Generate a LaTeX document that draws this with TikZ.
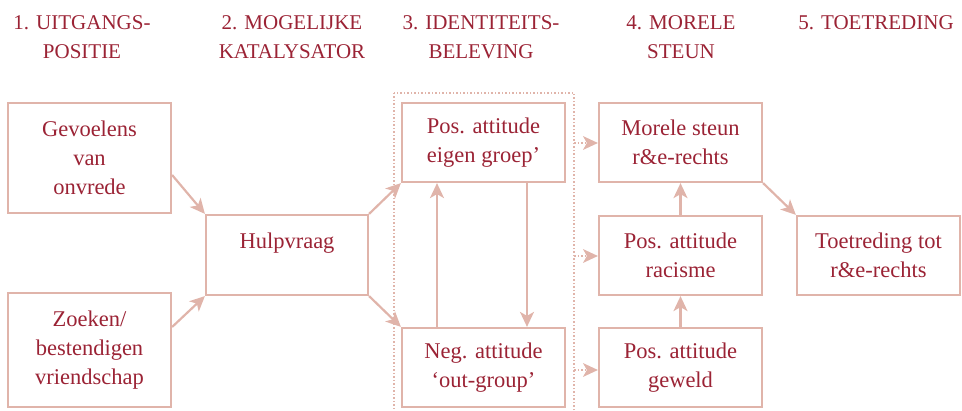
\documentclass[tikz,border=0pt]{standalone}
\usepackage{fontspec}
\setmainfont{Liberation Serif}
\usetikzlibrary{arrows.meta}
\definecolor{txt}{HTML}{9B2335}
\definecolor{ln}{HTML}{E0B4AA}
\begin{document}
\begin{tikzpicture}[x=1pt,y=-1pt,
  box/.style={draw=ln,line width=2.2pt,text=txt,align=center,inner sep=0pt,
    minimum width=163pt,font=\fontsize{22.5}{29}\selectfont},
  hdr/.style={text=txt,align=center,inner sep=0pt,font=\fontsize{21}{29}\selectfont},
  arr/.style={draw=ln,line width=2.2pt,-{Stealth[length=15pt,width=14pt,inset=4pt]}},
  darr/.style={draw=ln,line width=1.5pt,dotted,-{Stealth[length=15pt,width=14pt,inset=4pt,line width=0pt]}}
]
\useasboundingbox (0,0) rectangle (962,411);
% headers
\node[hdr,anchor=base] (h1a) at (82,30) {1. UITGANGS-};
\node[hdr,anchor=base] (h1b) at (82,59) {POSITIE};
\node[hdr,anchor=base] (h2a) at (292,30) {2. MOGELIJKE};
\node[hdr,anchor=base] (h2b) at (292,59) {KATALYSATOR};
\node[hdr,anchor=base] (h3a) at (481,30) {3. IDENTITEITS-};
\node[hdr,anchor=base] (h3b) at (481,59) {BELEVING};
\node[hdr,anchor=base] (h4a) at (681,30) {4. MORELE};
\node[hdr,anchor=base] (h4b) at (681,59) {STEUN};
\node[hdr,anchor=base] (h5a) at (876,30) {5. TOETREDING};
% dotted group
\draw[ln,line width=1.5pt,dotted] (394,93) rectangle (574,412);
\coordinate (d1) at (574,143);
\coordinate (d2) at (574,256);
\coordinate (d3) at (574,370);
% boxes
\node[box,minimum height=110pt] (g) at (89.5,158) {Gevoelens\\van\\onvrede};
\node[box,minimum height=114pt] (z) at (89.5,350) {Zoeken/\\bestendigen\\vriendschap};
\node[box,minimum height=80pt,minimum width=162pt] (h) at (287,255) {Hulpvraag\\\mbox{}};
\node[box,minimum height=79pt] (p) at (483.5,142.5) {Pos. attitude\\eigen groep’};
\node[box,minimum height=79pt] (n) at (483.5,367.5) {Neg. attitude\\‘out-group’};
\node[box,minimum height=79pt] (m) at (680.5,142.5) {Morele steun\\r\&e-rechts};
\node[box,minimum height=79pt] (r) at (680.5,255.5) {Pos. attitude\\racisme};
\node[box,minimum height=79pt] (w) at (680.5,367.5) {Pos. attitude\\geweld};
\node[box,minimum height=79pt] (t) at (878.5,255.5) {Toetreding tot\\r\&e-rechts};
% arrows
\draw[arr] (g.east |- 0,175) -- (h.north west);
\draw[arr] (z.east |- 0,327) -- (h.south west);
\draw[arr] (h.north east) -- (p.south west);
\draw[arr] (h.south east) -- (n.north west);
\draw[arr] (n.north -| 437,0) -- (p.south -| 437,0);
\draw[arr] (p.south -| 527,0) -- (n.north -| 527,0);
\draw[darr] (d1) -- (m.west |- d1);
\draw[darr] (d2) -- (r.west |- d2);
\draw[darr] (d3) -- (w.west |- d3);
\draw[arr] (w) -- (r);
\draw[arr] (r) -- (m);
\draw[arr] (m.south east) -- (t.north west);
\end{tikzpicture}
\end{document}
